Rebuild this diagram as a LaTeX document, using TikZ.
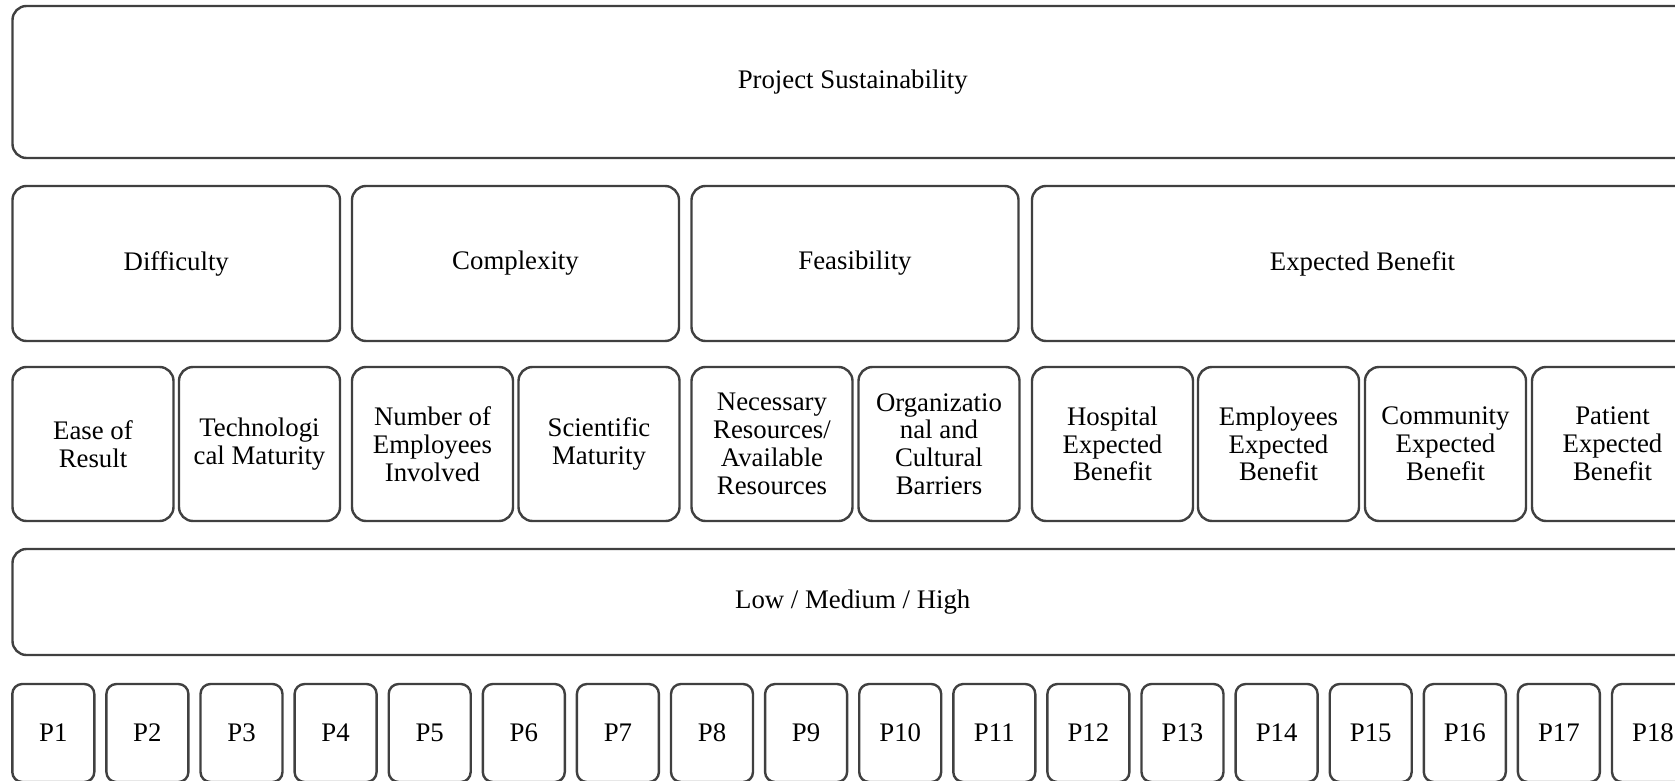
\documentclass[tikz,border=0pt]{standalone}
\usepackage{fontspec}
\setmainfont{Liberation Serif}
\usetikzlibrary{positioning}

\tikzset{
  block/.style={draw=black!75, line width=1.2pt, rounded corners=7pt, inner sep=0pt,
    align=center, font=\fontsize{13.4}{13.9}\selectfont},
  pbox/.style={block, rounded corners=5pt, minimum width=41pt, minimum height=49pt},
  crit/.style={block, minimum width=80.5pt, minimum height=77pt},
  group/.style={block, minimum height=77.5pt}
}

\begin{document}
\begin{tikzpicture}[x=0.5pt, y=-0.5pt]
          \clip (0,0) rectangle (1675,781);

          % top level
          \node[block, minimum width=840.25pt, minimum height=76pt] (top) at (852.75, 82) {Project Sustainability};

          % criteria groups
          \node[group, minimum width=163.75pt] (diff) at (176.25, 263.5) {Difficulty};
          \node[group, minimum width=163.5pt] (compl) at (515.5, 263.5) {Complexity};
          \node[group, minimum width=163.5pt] (feas) at (855, 263.5) {Feasibility};
          \node[group, minimum width=330.5pt] (benef) at (1362.5, 263.5) {Expected Benefit};

          % sub-criteria
          \node[crit] (ease) at (93, 444) {Ease of\\Result};
          \node[crit] (techmat) at (259.5, 444) {Technologi\\cal Maturity};
          \node[crit] (employees) at (432.5, 444) {Number of\\Employees\\Involved};
          \node[crit] (scimat) at (599, 444) {Scientific\\Maturity};
          \node[crit] (resources) at (772, 444) {Necessary\\Resources/\\Available\\Resources};
          \node[crit] (barriers) at (939, 444) {Organizatio\\nal and\\Cultural\\Barriers};
          \node[crit] (hospital) at (1112.5, 444) {Hospital\\Expected\\Benefit};
          \node[crit] (staff) at (1278.5, 444) {Employees\\Expected\\Benefit};
          \node[crit] (community) at (1445.5, 444) {Community\\Expected\\Benefit};
          \node[crit] (patient) at (1612.5, 444) {Patient\\Expected\\Benefit};

          % rating scale
          \node[block, minimum width=840.25pt, minimum height=53pt] (scale) at (852.75, 602) {Low / Medium / High};

          % projects
          \foreach \i in {1,...,18}
            \node[pbox] (p\i) at ({53.3+(\i-1)*94.1}, 733) {P\i};

\end{tikzpicture}
\end{document}
